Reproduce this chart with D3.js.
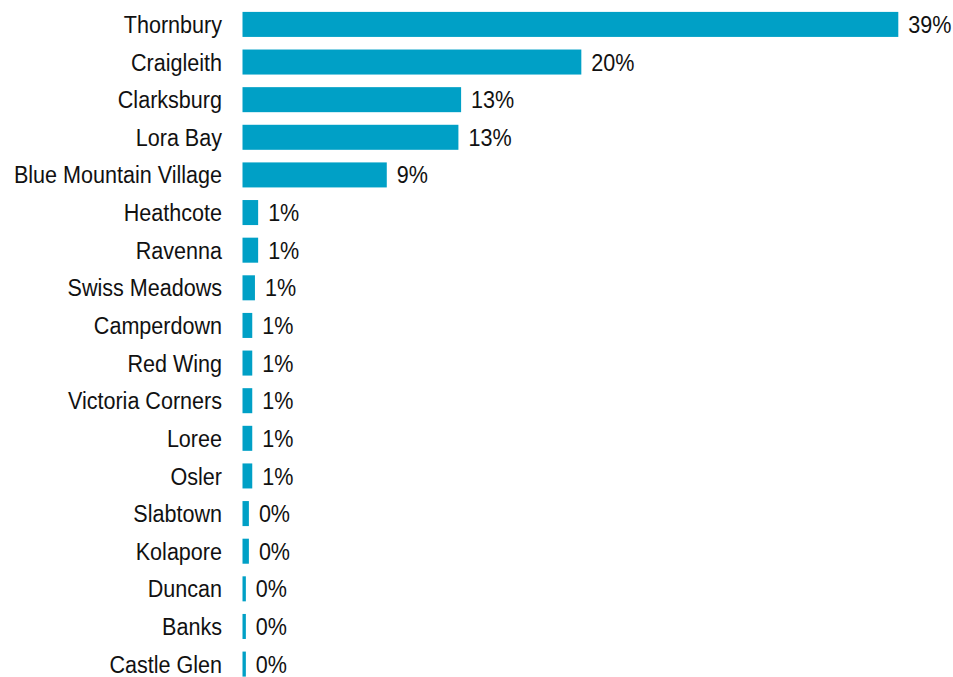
<!DOCTYPE html>
<html><head><meta charset="utf-8">
<script src="https://cdn.jsdelivr.net/npm/d3@7"></script>
<style>body{margin:0;background:#fff}svg{display:block}</style>
</head><body>
<script>
const categories = ["Thornbury","Craigleith","Clarksburg","Lora Bay","Blue Mountain Village","Heathcote","Ravenna","Swiss Meadows","Camperdown","Red Wing","Victoria Corners","Loree","Osler","Slabtown","Kolapore","Duncan","Banks","Castle Glen"];
const values = [39.0,20.15,13.0,12.84,8.58,0.93,0.93,0.74,0.58,0.58,0.58,0.58,0.58,0.38,0.38,0.2,0.2,0.2];
const labels = ["39%","20%","13%","13%","9%","1%","1%","1%","1%","1%","1%","1%","1%","0%","0%","0%","0%","0%"];

const W=953,H=677;
const svg=d3.select("body").append("svg").attr("width",W).attr("height",H);
const x=d3.scaleLinear().domain([0,39]).range([242.5,898.3]);
const y=d3.scaleBand().domain(categories).range([5.5,683]).paddingInner(0.335).paddingOuter(0.17);
const font="'Liberation Sans', Arial, sans-serif";
const FS=24.5, SX=0.88;

svg.selectAll("rect.bar").data(categories).join("rect")
  .attr("x",x(0)).attr("y",d=>y(d)).attr("height",y.bandwidth())
  .attr("width",(d,i)=>x(values[i])-x(0)).attr("fill","#00a0c6");

svg.selectAll("text.cat").data(categories).join("text")
  .attr("transform",d=>`translate(222,${y(d)+y.bandwidth()/2}) scale(${SX},1)`)
  .attr("dy","0.35em")
  .attr("text-anchor","end").attr("font-family",font).attr("font-size",FS)
  .attr("fill","#111").text(d=>d);

svg.selectAll("text.val").data(categories).join("text")
  .attr("transform",(d,i)=>`translate(${x(values[i])+10},${y(d)+y.bandwidth()/2}) scale(${SX},1)`)
  .attr("dy","0.35em")
  .attr("font-family",font).attr("font-size",FS).attr("fill","#111")
  .text((d,i)=>labels[i]);
</script>
</body></html>
